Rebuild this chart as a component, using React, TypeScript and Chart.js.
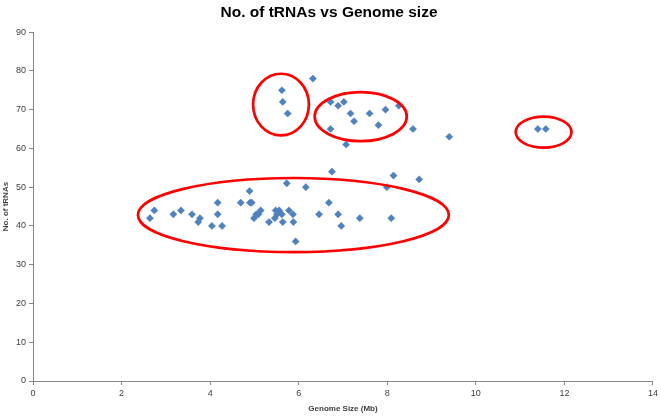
import React, { useEffect, useRef } from "react";
import { Chart, registerables } from "chart.js";

Chart.register(...registerables);

const genomeSizes: number[] = [
  2.74, 2.64, 3.17, 3.34, 3.59, 3.77, 3.73, 4.04, 4.17, 4.17, 4.27, 4.69, 4.89, 4.9, 4.94,
  4.99, 5.04, 5.09, 5.14, 5.33, 5.48, 5.56, 5.51, 5.46, 5.62, 5.64, 5.73, 5.78, 5.87, 5.88,
  5.93, 6.16, 6.46, 6.68, 6.75, 6.89, 6.96, 7.38, 7.99, 8.09, 8.14, 8.72, 7.07, 6.32, 5.62,
  5.64, 5.75, 6.72, 6.89, 7.02, 7.17, 7.25, 7.6, 7.96, 8.26, 7.8, 6.72, 8.58, 9.4, 11.4, 11.58,
];
const tRNACounts: number[] = [
  44, 42, 43, 44, 43, 42, 41, 40, 46, 43, 40, 46, 49, 46, 46,
  42, 43, 43, 44, 41, 44, 44, 43, 42, 43, 41, 51, 44, 43, 41,
  36, 50, 43, 46, 54, 43, 40, 42, 50, 42, 53, 52, 61, 78, 75,
  72, 69, 72, 71, 72, 69, 67, 69, 70, 71, 66, 65, 65, 63, 65, 65,
];

// highlight ellipses: centre x, centre y, half-width, half-height (data units)
const ellipseCx: number[] = [5.88, 5.6, 7.4, 11.53];
const ellipseCy: number[] = [42.8, 71.3, 68.2, 64.2];
const ellipseRx: number[] = [3.51, 0.63, 1.04, 0.63];
const ellipseRy: number[] = [9.56, 7.96, 6.33, 4.0];

const FONT = "'Liberation Sans', Arial, sans-serif";

const ellipsePlugin = {
  id: "ellipses",
  afterDatasetsDraw(chart: any) {
    const xs = chart.scales.x;
    const ys = chart.scales.y;
    const ctx = chart.ctx;
    ctx.save();
    ctx.strokeStyle = "#FF0000";
    ctx.lineWidth = 2.7;
    for (let i = 0; i < ellipseCx.length; i++) {
      const cx = xs.getPixelForValue(ellipseCx[i]);
      const cy = ys.getPixelForValue(ellipseCy[i]);
      const rx = Math.abs(xs.getPixelForValue(ellipseCx[i] + ellipseRx[i]) - cx);
      const ry = Math.abs(ys.getPixelForValue(ellipseCy[i] + ellipseRy[i]) - cy);
      ctx.beginPath();
      ctx.ellipse(cx, cy, rx, ry, 0, 0, Math.PI * 2);
      ctx.stroke();
    }
    ctx.restore();
  },
};

export default function App() {
  const ref = useRef<HTMLCanvasElement | null>(null);
  useEffect(() => {
    if (!ref.current) return;
    const data = genomeSizes.map((x, i) => ({ x, y: tRNACounts[i] }));
    const chart = new Chart(ref.current, {
      type: "scatter",
      data: {
        datasets: [
          {
            label: "tRNAs",
            data,
            pointStyle: "rectRot",
            pointRadius: 3.6,
            backgroundColor: "#4F81BD",
            borderColor: "#4F81BD",
            borderWidth: 0.5,
          },
        ],
      },
      options: {
        animation: false,
        responsive: true,
        maintainAspectRatio: false,
        layout: { padding: { left: 0, right: 3, top: 0, bottom: 0 } },
        plugins: {
          legend: { display: false },
          tooltip: { enabled: false },
          title: {
            display: true,
            text: "No. of tRNAs vs Genome size",
            color: "#000000",
            font: { family: FONT, size: 15.5, weight: "bold" },
            padding: { top: 3, bottom: 10.5 },
          },
        },
        scales: {
          x: {
            type: "linear",
            min: 0,
            max: 14,
            ticks: { stepSize: 2, color: "#404040", font: { family: FONT, size: 9 }, padding: 3 },
            grid: { drawOnChartArea: false, drawTicks: true, tickLength: 4, color: "#868686" },
            border: { display: true, color: "#868686" },
            title: {
              display: true,
              text: "Genome Size (Mb)",
              color: "#404040",
              font: { family: FONT, size: 8, weight: "bold" },
              padding: { top: 0, bottom: 2 },
            },
            afterFit(scale: any) {
              scale.height = 35;
            },
          },
          y: {
            type: "linear",
            min: 0,
            max: 90,
            ticks: { stepSize: 10, color: "#404040", font: { family: FONT, size: 9 }, padding: 3 },
            grid: { drawOnChartArea: false, drawTicks: true, tickLength: 4, color: "#868686" },
            border: { display: true, color: "#868686" },
            title: {
              display: true,
              text: "No. of tRNAs",
              color: "#404040",
              font: { family: FONT, size: 8, weight: "bold" },
              padding: { top: 1, bottom: 0 },
            },
            afterFit(scale: any) {
              scale.width = 33;
            },
          },
        },
      },
      plugins: [ellipsePlugin],
    });
    return () => chart.destroy();
  }, []);
  return (
    <div style={{ position: "fixed", left: 0, top: 0, width: 661, height: 416, background: "#fff" }}>
      <canvas ref={ref} />
    </div>
  );
}
